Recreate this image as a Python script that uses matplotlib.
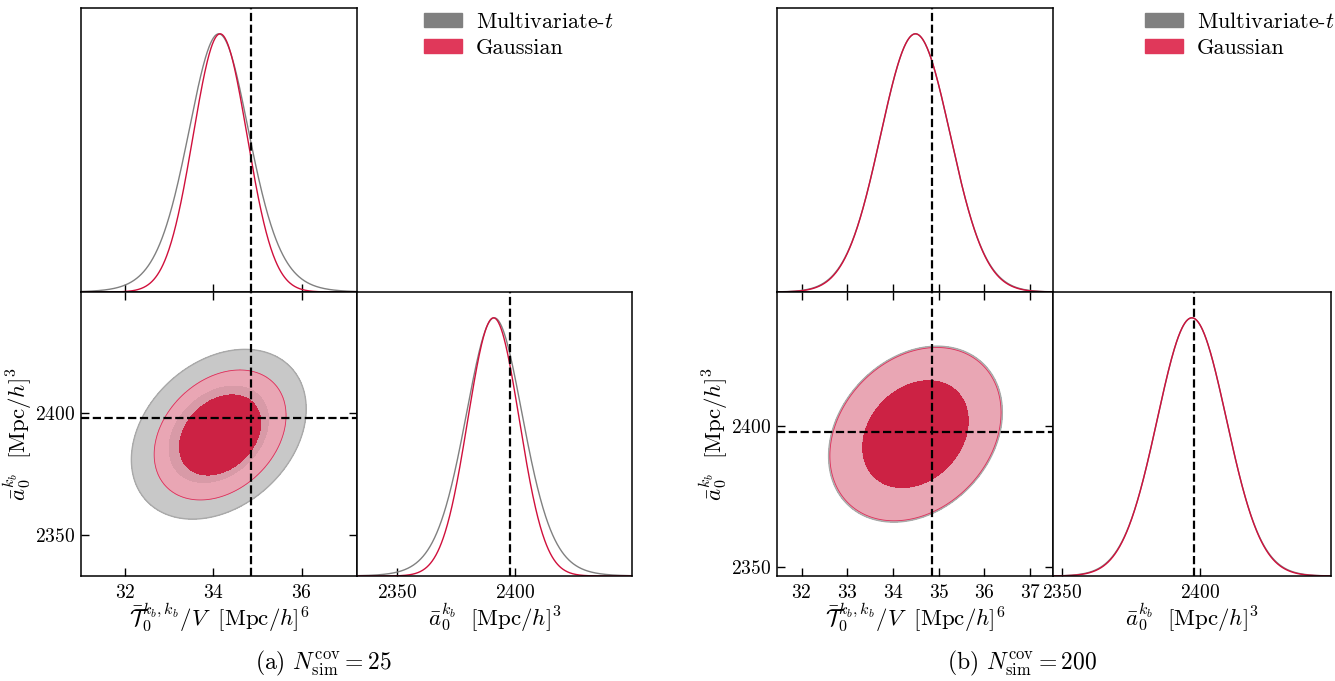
import numpy as np
import matplotlib.pyplot as plt
from matplotlib.patches import Patch

plt.rcParams.update({
    'font.family': 'serif',
    'font.serif': ['cmr10'],
    'mathtext.fontset': 'cm',
    'axes.unicode_minus': False,
    'axes.formatter.use_mathtext': True,
})

# values (two corner plots: N_sim = 25 and 200)
n_sim = [25, 200]
caption_tag = ['(a)', '(b)']
truth_T = 34.85
truth_a = 2397.8

gauss_mean_T = [34.15, 34.49]
gauss_mean_a = [2390.9, 2397.2]
gauss_sig_T = [0.61, 0.765]
gauss_sig_a = [10.9, 12.6]
gauss_rho = [0.3, 0.25]

t_mean_T = [34.12, 34.49]
t_mean_a = [2391.2, 2397.2]
t_scale_T = [0.71, 0.765]
t_scale_a = [12.5, 12.6]
t_rho = [0.3, 0.25]
t_dof = [12, 100]

lim_T = [(31.0, 37.25), (31.46, 37.5)]
lim_a = [(2333.0, 2449.6), (2346.7, 2447.8)]
ticks_T = [[32, 34, 36], [32, 33, 34, 35, 36, 37]]
ticks_a = [[2350, 2400], [2350, 2400]]

gray_line = '#808080'
red_line = '#d0103c'
legend_red = '#e0385a'

W, H = 1335, 681
fig = plt.figure(figsize=(W / 100, H / 100), dpi=100)


def fx(px):
    return px / W


def fy(py):
    return 1 - py / H


def r_gauss(p):
    return -2 * np.log(1 - p)


def r_t(p, nu):
    return nu * ((1 - p) ** (-2.0 / nu) - 1)


def mahal(x, y, mx, my, sx, sy, rho):
    u = (x - mx) / sx
    v = (y - my) / sy
    return (u * u - 2 * rho * u * v + v * v) / (1 - rho ** 2)


def style(ax, bottom=True, left=False, top=False, right=False):
    for s in ax.spines.values():
        s.set_linewidth(1.1)
    ax.tick_params(direction='in', length=6, width=1.0, labelsize=14,
                   bottom=bottom, left=left, top=top, right=right,
                   labelbottom=True, labelleft=left)
    ax.tick_params(axis='x', pad=6)
    ax.tick_params(axis='y', pad=4)


x0s = [81, 777]
w2 = [276, 276]
w1d = [275, 278]
leg_x = [424, 1145]
cap_x = [323, 1022]
ylab_x = [34, 730]

for i in range(2):
    x0 = x0s[i]
    ax_top = fig.add_axes([fx(x0), fy(292), fx(w2[i]), 284 / H])
    ax_2d = fig.add_axes([fx(x0), fy(576), fx(w2[i]), 284 / H])
    ax_r = fig.add_axes([fx(x0 + w2[i]), fy(576), fx(w1d[i]), 284 / H])

    nu = t_dof[i]
    # 1D marginal for T
    xt = np.linspace(lim_T[i][0], lim_T[i][1], 600)
    zt = (xt - t_mean_T[i]) / t_scale_T[i]
    zg = (xt - gauss_mean_T[i]) / gauss_sig_T[i]
    ax_top.plot(xt, (1 + zt ** 2 / nu) ** (-(nu + 1) / 2), color=gray_line, lw=1.0)
    ax_top.plot(xt, np.exp(-0.5 * zg ** 2), color=red_line, lw=1.0)
    ax_top.axvline(truth_T, color='k', ls='--', lw=1.6)
    ax_top.set_xlim(lim_T[i])
    ax_top.set_ylim(0, 1.1)
    ax_top.set_xticks(ticks_T[i])
    ax_top.set_yticks([])
    style(ax_top)
    ax_top.tick_params(labelbottom=False)

    # 1D marginal for a
    xa = np.linspace(lim_a[i][0], lim_a[i][1], 600)
    zt = (xa - t_mean_a[i]) / t_scale_a[i]
    zg = (xa - gauss_mean_a[i]) / gauss_sig_a[i]
    ax_r.plot(xa, (1 + zt ** 2 / nu) ** (-(nu + 1) / 2), color=gray_line, lw=1.0)
    ax_r.plot(xa, np.exp(-0.5 * zg ** 2), color=red_line, lw=1.0)
    ax_r.axvline(truth_a, color='k', ls='--', lw=1.6)
    ax_r.set_xlim(lim_a[i])
    ax_r.set_ylim(0, 1.1)
    ax_r.set_xticks(ticks_a[i])
    ax_r.set_yticks([])
    style(ax_r)
    ax_r.set_xlabel(r'$\bar{a}_0^{k_b}\ \ [\mathrm{Mpc}/h]^3$', fontsize=16.5)
    ax_r.xaxis.set_label_coords(0.5, -0.09)

    # 2D contours
    X, Y = np.meshgrid(np.linspace(lim_T[i][0], lim_T[i][1], 400),
                       np.linspace(lim_a[i][0], lim_a[i][1], 400))
    Dt = mahal(X, Y, t_mean_T[i], t_mean_a[i], t_scale_T[i], t_scale_a[i], t_rho[i])
    Dg = mahal(X, Y, gauss_mean_T[i], gauss_mean_a[i], gauss_sig_T[i], gauss_sig_a[i], gauss_rho[i])
    ax_2d.contourf(X, Y, Dt, levels=[0, r_t(0.95, nu)], colors=['#c8c8c8'])
    ax_2d.contour(X, Y, Dt, levels=[r_t(0.95, nu)], colors=['#a9a9a9'], linewidths=1.0)
    ax_2d.contourf(X, Y, Dg, levels=[0, r_gauss(0.95)], colors=['#e9a6b4'])
    ax_2d.contour(X, Y, Dg, levels=[r_gauss(0.95)], colors=['#d8305a'], linewidths=0.6)
    ax_2d.contourf(X, Y, Dt, levels=[0, r_t(0.68, nu)], colors=['k'], alpha=0.07)
    ax_2d.contourf(X, Y, Dg, levels=[0, r_gauss(0.68)], colors=['#cc2244'])
    ax_2d.axvline(truth_T, color='k', ls='--', lw=1.6)
    ax_2d.axhline(truth_a, color='k', ls='--', lw=1.6)
    ax_2d.set_xlim(lim_T[i])
    ax_2d.set_ylim(lim_a[i])
    ax_2d.set_xticks(ticks_T[i])
    ax_2d.set_yticks(ticks_a[i])
    style(ax_2d, left=True, top=True, right=True)
    ax_2d.set_xlabel(r'$\bar{\mathcal{T}}_0^{k_b,k_b}/V\ \ [\mathrm{Mpc}/h]^6$', fontsize=16.5)
    ax_2d.xaxis.set_label_coords(0.5, -0.09)
    ax_2d.set_ylabel(r'$\bar{a}_0^{k_b}\ \ [\mathrm{Mpc}/h]^3$', fontsize=16.5)
    ax_2d.yaxis.set_label_coords((ylab_x[i] - x0) / w2[i], 0.5)

    handles = [Patch(color=gray_line, label=r'Multivariate-$t$'),
               Patch(color=legend_red, label='Gaussian')]
    fig.legend(handles=handles, loc='upper left',
               bbox_to_anchor=(fx(leg_x[i]), fy(12)), frameon=False,
               fontsize=16, borderpad=0, borderaxespad=0,
               handlelength=1.7, handleheight=0.6, handletextpad=0.65,
               labelspacing=0.3)

    fig.text(fx(cap_x[i]), fy(663),
             caption_tag[i] + r' $N_{\rm sim}^{\rm cov} = %d$' % n_sim[i],
             ha='center', va='center', fontsize=17)

fig.savefig('out.png', dpi=100)
